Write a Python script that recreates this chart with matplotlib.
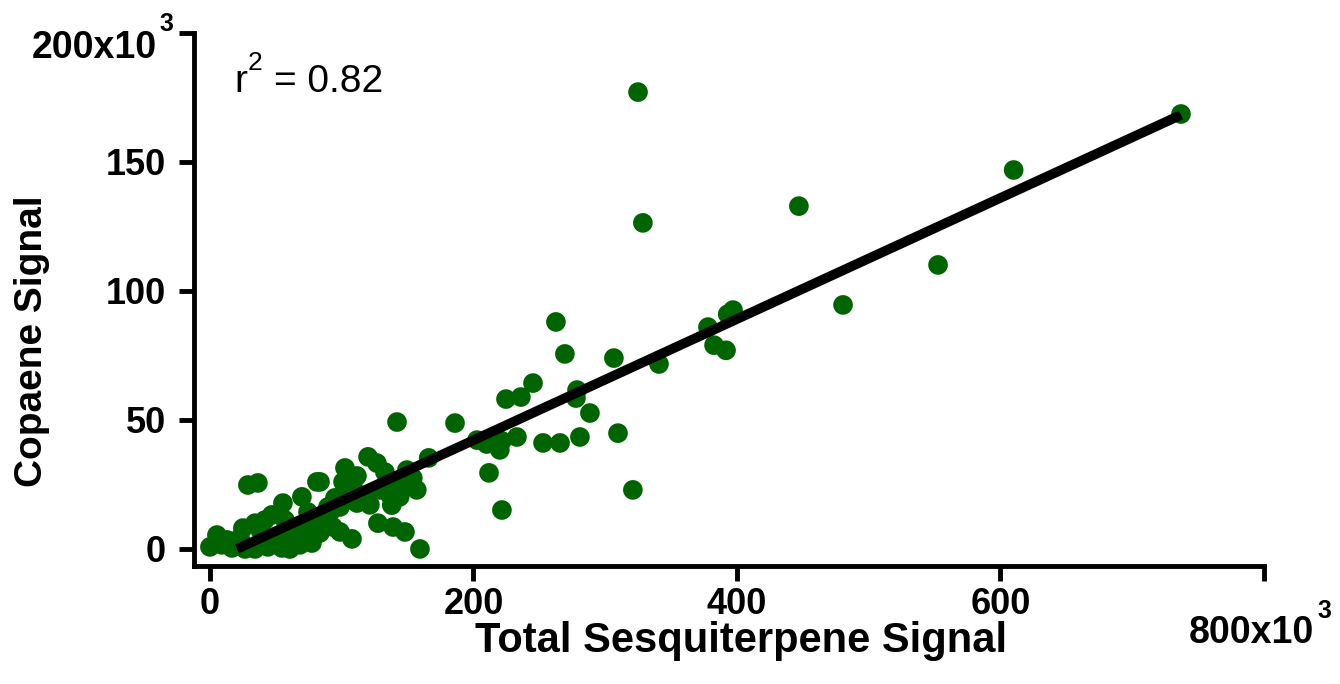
import matplotlib
matplotlib.use("Agg")
import matplotlib.pyplot as plt
import numpy as np

# Data (in thousands)
sesq = [324.9, 737.0, 610.0, 447.0, 328.6, 552.6, 480.5, 397.0, 393.0, 378.0,
        262.6, 382.6, 391.7, 269.4, 306.6, 340.8, 245.2, 278.6, 277.8, 236.0,
        224.7, 288.4, 186.0, 142.0, 309.7, 280.8, 233.0, 202.7, 210.0, 221.6,
        220.0, 252.8, 265.7, 211.8, 221.6, 321.0, 166.0, 159.4,
        120.0, 126.7, 102.5, 111.6, 132.8, 138.0, 149.5, 157.0, 83.5, 101.0,
        108.5, 129.0, 138.0, 144.0, 111.6, 98.7, 91.0, 127.5, 139.0, 148.0,
        107.8, 93.4, 83.5, 98.7,
        28.8, 36.4, 81.2, 69.8, 55.4, 47.0, 41.7, 34.2, 25.0, 5.3,
        0.0, 12.9, 19.0, 26.6, 34.2, 44.0, 51.6, 60.7, 64.5, 66.8,
        77.4, 78.2, 87.3, 89.6, 74.4, 60.7,
        9.1, 16.7, 22.8, 39.5, 47.0, 54.6, 68.3, 72.9, 57.0, 38.0,
        83.5, 94.9, 102.5, 110.0, 117.6, 121.4, 136.6, 144.0, 154.0]
copaene = [177.1, 168.6, 146.9, 132.9, 126.4, 110.1, 94.6, 92.6, 91.0, 86.0,
           88.0, 79.0, 77.0, 75.6, 74.0, 71.7, 64.3, 61.6, 58.5, 58.9,
           58.1, 52.7, 48.8, 49.2, 44.9, 43.4, 43.4, 42.2, 40.7, 41.9,
           38.4, 41.1, 41.1, 29.5, 15.1, 22.9, 35.3, 0.0,
           35.7, 33.3, 31.4, 28.3, 29.8, 26.0, 30.6, 22.9, 26.0, 26.0,
           24.0, 22.9, 17.0, 20.2, 17.8, 16.3, 14.0, 10.0, 8.5, 6.6,
           3.9, 8.5, 6.2, 6.6,
           24.8, 25.6, 26.0, 20.2, 17.8, 13.2, 11.2, 10.0, 8.1, 5.4,
           0.8, 3.5, 2.3, 0.0, 0.0, 0.8, 3.5, 0.0, 4.7, 8.5,
           2.3, 10.0, 11.2, 16.3, 14.3, 8.5,
           1.6, 0.4, 4.3, 1.6, 3.5, 0.4, 1.6, 6.6, 11.2, 7.4,
           11.2, 19.8, 22.9, 27.5, 20.2, 17.1, 20.9, 24.8, 27.5]

fit_x = [20.5, 737.0]
fit_slope = 0.2348
fit_intercept = -4.8
r_squared = 0.82

x_ticks = [0, 200, 400, 600, 800]
x_ticklabels = ["0", "200", "400", "600", ""]
y_ticks = [0, 50, 100, 150, 200]
y_ticklabels = ["0", "50", "100", "150", ""]

W, H = 1340, 684
fig = plt.figure(figsize=(W / 100, H / 100), dpi=100)
ax = fig.add_axes([194 / W, 1 - 566 / H, (1264 - 194) / W, (566 - 33) / H])

FONT = "Liberation Sans"
GREEN = "#006400"

ax.scatter(sesq, copaene, s=200, color=GREEN, edgecolors="none", zorder=2,
           clip_on=False)
fx = np.array(fit_x)
ax.plot(fx, fit_slope * fx + fit_intercept, color="black", lw=7,
        solid_capstyle="butt", zorder=3)

ax.set_xlim(-12.1, 800)
ax.set_ylim(-6.6, 200)

for s in ["top", "right"]:
    ax.spines[s].set_visible(False)
for s in ["left", "bottom"]:
    ax.spines[s].set_linewidth(3.5)

ax.set_xticks(x_ticks)
ax.set_xticklabels(x_ticklabels, fontfamily=FONT, fontweight="bold", fontsize=26)
ax.set_yticks(y_ticks)
ax.set_yticklabels(y_ticklabels, fontfamily=FONT, fontweight="bold", fontsize=26)
ax.tick_params(axis="both", direction="out", length=11, width=3.5)
ax.tick_params(axis="x", pad=4)
ax.tick_params(axis="y", pad=9)


def px(x, y):
    return (x, H - y)


# exponent labels
ax.annotate("200x10", xy=px(157, 58), xycoords="figure pixels", ha="right",
            va="baseline", fontfamily=FONT, fontweight="bold", fontsize=27)
ax.annotate("3", xy=px(159, 31), xycoords="figure pixels", ha="left",
            va="baseline", fontfamily=FONT, fontweight="bold", fontsize=18)
ax.annotate("800x10", xy=px(1314, 643), xycoords="figure pixels", ha="right",
            va="baseline", fontfamily=FONT, fontweight="bold", fontsize=27)
ax.annotate("3", xy=px(1317, 618), xycoords="figure pixels", ha="left",
            va="baseline", fontfamily=FONT, fontweight="bold", fontsize=18)

# r^2 annotation
ax.annotate("r", xy=px(234, 92), xycoords="figure pixels", ha="left",
            va="baseline", fontfamily=FONT, fontsize=28)
ax.annotate("2", xy=px(248, 70), xycoords="figure pixels", ha="left",
            va="baseline", fontfamily=FONT, fontsize=19)
ax.annotate(f"= {r_squared:.2f}", xy=px(274, 92), xycoords="figure pixels",
            ha="left", va="baseline", fontfamily=FONT, fontsize=28)

# axis labels
fig.text(741 / W, 1 - 641 / H, "Total Sesquiterpene Signal", ha="center",
         va="center", fontfamily=FONT, fontweight="bold", fontsize=30)
fig.text(32 / W, 1 - 341 / H, "Copaene Signal", ha="center", va="center",
         rotation=90, fontfamily=FONT, fontweight="bold", fontsize=28)

fig.savefig("out.png", dpi=100)
